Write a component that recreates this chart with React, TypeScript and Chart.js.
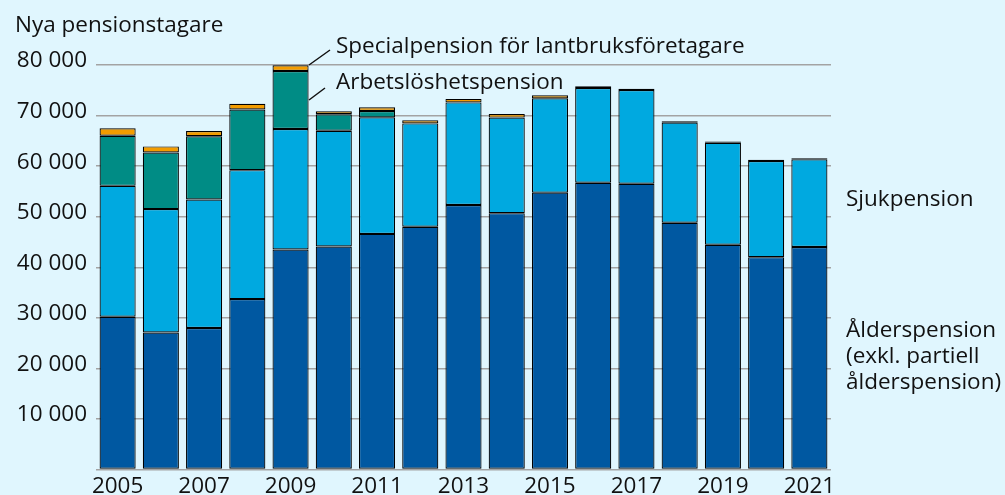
import React, { useEffect, useRef } from "react";
import { Chart, registerables } from "chart.js";
Chart.register(...registerables);

const years = ["2005","2006","2007","2008","2009","2010","2011","2012","2013","2014","2015","2016","2017","2018","2019","2020","2021"];
const alderspension = [30200, 27100, 28000, 33700, 43500, 44100, 46600, 48000, 52300, 50700, 54750, 56700, 56500, 48800, 44450, 42000, 44000];
const sjukpension = [25900, 24400, 25400, 25500, 23850, 22900, 23050, 20450, 20300, 18900, 18650, 18750, 18550, 19800, 20150, 19000, 17350];
const arbetsloshetspension = [9900, 11200, 12500, 12000, 11450, 3250, 1250, null, null, null, null, null, null, null, null, null, null];
const specialpension = [1500, 1200, 1050, 1150, 1150, 600, 750, 600, 700, 700, 600, 340, 260, 260, 260, 260, 200];
const yTicks = [10000, 20000, 30000, 40000, 50000, 60000, 70000, 80000];

const FONT = "'Open Sans'";
const FS = 22.5;
const TEXT = "#111111";

const textPlugin = {
  id: "texts",
  beforeDraw(chart: any) {
    const ctx = chart.ctx;
    ctx.save();
    ctx.fillStyle = "#e0f6fe";
    ctx.fillRect(0, 0, chart.width, chart.height);
    ctx.restore();
  },
  afterDraw(chart: any) {
    const ctx = chart.ctx;
    ctx.save();
    ctx.fillStyle = TEXT;
    ctx.font = `${FS}px ${FONT}`;
    ctx.textBaseline = "alphabetic";
    ctx.textAlign = "left";
    ctx.fillText("Nya pensionstagare", 15, 32);
    ctx.fillText("Specialpension för lantbruksföretagare", 336, 53);
    ctx.fillText("Arbetslöshetspension", 336, 89);
    ctx.fillText("Sjukpension", 846, 206);
    ctx.fillText("Ålderspension", 846, 337);
    ctx.fillText("(exkl. partiell", 846, 363);
    ctx.fillText("ålderspension)", 846, 389);
    ctx.strokeStyle = "#111";
    ctx.lineWidth = 1.5;
    ctx.beginPath();
    ctx.moveTo(309, 65);
    ctx.lineTo(330, 50);
    ctx.moveTo(309, 100);
    ctx.lineTo(325, 88);
    ctx.stroke();
    ctx.restore();
  },
};

export default function App() {
  const ref = useRef<HTMLCanvasElement>(null);
  useEffect(() => {
    document.body.style.margin = "0";
    document.body.style.background = "#e0f6fe";
    const common = { borderColor: "#000000", borderWidth: 1.2, borderSkipped: false, barPercentage: 0.835, categoryPercentage: 1 };
    const chart = new Chart(ref.current!, {
      type: "bar",
      data: {
        labels: years,
        datasets: [
          { label: "Ålderspension", data: alderspension, backgroundColor: "#0058a1", ...common },
          { label: "Sjukpension", data: sjukpension, backgroundColor: "#00a9e0", ...common },
          { label: "Arbetslöshetspension", data: arbetsloshetspension, backgroundColor: "#008c85", ...common },
          { label: "Specialpension", data: specialpension, backgroundColor: "#f39c00", ...common },
        ],
      } as any,
      options: {
        animation: false,
        responsive: false,
        devicePixelRatio: 1,
        layout: { padding: { top: 65, right: 174, bottom: 0, left: 0 } },
        plugins: { legend: { display: false }, tooltip: { enabled: false } },
        scales: {
          x: {
            stacked: true,
            grid: { display: false, drawTicks: false },
            border: { display: false },
            ticks: {
              autoSkip: false,
              maxRotation: 0,
              padding: 5,
              color: TEXT,
              font: { family: FONT, size: FS, lineHeight: 1.1 },
              callback: (_v: any, i: number) => (i % 2 === 0 ? years[i] : ""),
            },
            afterFit: (s: any) => { s.height = 25.5; },
          },
          y: {
            stacked: true,
            min: 0,
            max: 80000,
            afterBuildTicks: (s: any) => { s.ticks = [{ value: 0 }, ...yTicks.map((v) => ({ value: v }))]; },
            grid: { color: "#a3a3a3", lineWidth: 1.5, drawTicks: false },
            border: { display: false },
            ticks: {
              padding: 9,
              labelOffset: -4,
              color: TEXT,
              font: { family: FONT, size: FS },
              callback: (v: any) => (v === 0 ? "" : String(v).replace(/\B(?=(\d{3})+(?!\d))/g, " ")),
            },
            afterFit: (s: any) => { s.width = 96; },
          },
        },
      } as any,
      plugins: [textPlugin],
    });
    return () => chart.destroy();
  }, []);
  return (
    <div style={{ position: "absolute", left: 0, top: 0, width: 1005, height: 495 }}>
      <canvas ref={ref} width={1005} height={495} style={{ width: 1005, height: 495 }} />
    </div>
  );
}
